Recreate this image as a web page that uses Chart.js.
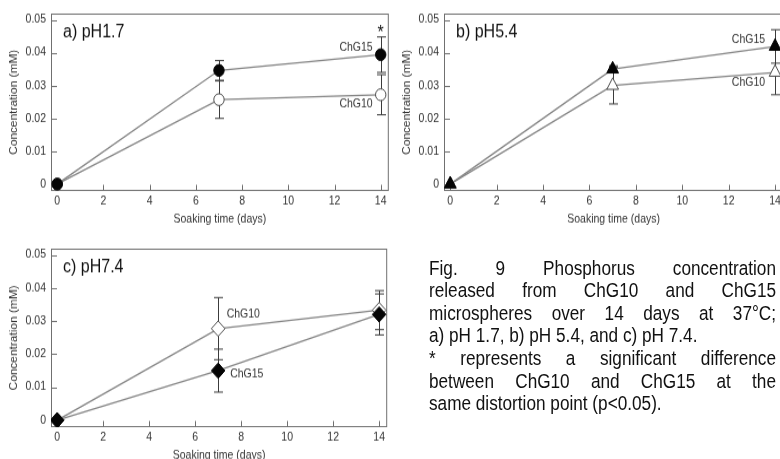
<!DOCTYPE html>
<html>
<head>
<meta charset="utf-8">
<title>Phosphorus release</title>
<script src="https://cdn.jsdelivr.net/npm/chart.js@4.4.1/dist/chart.umd.min.js"></script>
<style>
  html, body { margin: 0; padding: 0; background: #fff; }
  body {
    width: 780px; height: 459px; overflow: hidden; position: relative;
    font-family: 'Liberation Sans', Arial, Helvetica, sans-serif;
  }
  /* the whole figure is set a little taller than wide */
  #stage {
    position: absolute; left: 0; top: 0; width: 800px; height: 406px;
    transform: scaleY(1.13); transform-origin: 0 0;
  }
  canvas { position: absolute; }
  #chartA { left: 0; top: 0; }
  #chartB { left: 393px; top: 0; }
  #chartC { left: 0; top: 208px; }
  .caption {
    position: absolute; left: 429px; top: 226.5px; width: 347px;
    font-size: 17.2px; line-height: 20px; color: #111;
  }
  .caption .full { text-align: justify; text-align-last: justify; }
</style>
</head>
<body>
<div id="stage">
  <canvas id="chartA" width="395" height="204"></canvas>
  <canvas id="chartB" width="398" height="204"></canvas>
  <canvas id="chartC" width="395" height="205"></canvas>

  <div class="caption">
    <div class="full">Fig. 9 Phosphorus concentration</div>
    <div class="full">released from ChG10 and ChG15</div>
    <div class="full">microspheres over 14 days at 37°C;</div>
    <div>a) pH 1.7, b) pH 5.4, and c) pH 7.4.</div>
    <div class="full">* represents a significant difference</div>
    <div class="full">between ChG10 and ChG15 at the</div>
    <div>same distortion point (p&lt;0.05).</div>
  </div>
</div>

<script>
// soaking days and axis ticks
const days = [0, 7, 14];
const xTicks = [0, 2, 4, 6, 8, 10, 12, 14];
const yTicks = [0, 0.01, 0.02, 0.03, 0.04, 0.05];
const yTickLabels = ['0', '0.01', '0.02', '0.03', '0.04', '0.05'];

// a) pH 1.7  (mean, +/- error)
const chg10Ph17 = [0, 0.0257, 0.0272];
const chg10Ph17Err = [0, 0.0057, 0.0061];
const chg15Ph17 = [0, 0.0346, 0.0394];
const chg15Ph17Err = [0, 0.0030, 0.0054];

// b) pH 5.4
const chg10Ph54 = [0, 0.0300, 0.0340];
const chg10Ph54Err = [0, 0.0056, 0.0068];
const chg15Ph54 = [0, 0.0350, 0.0419];
const chg15Ph54Err = [0, 0.0010, 0.0051];

// c) pH 7.4
const chg10Ph74 = [0, 0.0277, 0.0333];
const chg10Ph74Err = [0, 0.0094, 0.0059];
const chg15Ph74 = [0, 0.0150, 0.0320];
const chg15Ph74Err = [0, 0.0065, 0.0062];

const FONT = "'Liberation Sans', Arial, Helvetica, sans-serif";

const toPoints = vals => days.map((d, i) => ({ x: d, y: vals[i] }));

// keep the css size fixed so Chart.js does not touch it
['chartA', 'chartB', 'chartC'].forEach(id => {
    const c = document.getElementById(id);
    c.style.width = c.width + 'px';
    c.style.height = c.height + 'px';
});

// frame, inward ticks, error bars and in-plot text
const panelDecor = {
    id: 'panelDecor',
    beforeDatasetsDraw(chart, args, opts) {
        const { ctx, chartArea: a, scales: { x, y } } = chart;
        ctx.save();
        ctx.strokeStyle = '#707070';
        ctx.lineWidth = 1;
        ctx.strokeRect(a.left + 0.5, a.top + 0.5, a.right - a.left - 1, a.bottom - a.top - 1);

        ctx.beginPath();
        xTicks.forEach(v => {
            const px = Math.round(x.getPixelForValue(v)) + 0.5;
            ctx.moveTo(px, a.bottom);
            ctx.lineTo(px, a.bottom - 5.5);
        });
        yTicks.forEach(v => {
            const py = Math.round(y.getPixelForValue(v)) + 0.5;
            ctx.moveTo(a.left, py);
            ctx.lineTo(a.left + 6, py);
        });
        ctx.stroke();

        // error bars (drawn under the markers)
        ctx.strokeStyle = '#3c3c3c';
        opts.errors.forEach(set => {
            set.means.forEach((m, i) => {
                const e = set.err[i];
                if (!e) return;
                const px = Math.round(x.getPixelForValue(days[i])) + 0.5;
                const top = y.getPixelForValue(m + e);
                const bot = y.getPixelForValue(m - e);
                ctx.beginPath();
                ctx.moveTo(px, top); ctx.lineTo(px, bot);
                ctx.moveTo(px - 4.5, top); ctx.lineTo(px + 4.5, top);
                ctx.moveTo(px - 4.5, bot); ctx.lineTo(px + 4.5, bot);
                ctx.stroke();
            });
        });
        ctx.restore();
    },
    afterDatasetsDraw(chart, args, opts) {
        const { ctx, chartArea: a, scales: { x, y } } = chart;
        ctx.save();
        ctx.fillStyle = '#111';
        ctx.textBaseline = 'middle';
        ctx.textAlign = 'left';
        ctx.font = '16px ' + FONT;
        ctx.fillText(opts.title, a.left + 12, a.top + 17);

        opts.labels.forEach(l => {
            ctx.font = (l.size || 10.5) + 'px ' + FONT;
            ctx.fillStyle = l.color || '#333';
            ctx.textAlign = l.align;
            ctx.fillText(l.text, x.getPixelForValue(l.x) + l.dx, y.getPixelForValue(l.y) + l.dy);
        });
        ctx.restore();
    }
};

function makePanel(id, cfg) {
    const el = document.getElementById(id);
    const ctx = el.getContext('2d');
    return new Chart(ctx, {
        type: 'line',
        data: {
            datasets: [
                {
                    label: 'ChG15',
                    data: toPoints(cfg.chg15),
                    borderColor: '#858585',
                    borderWidth: 1.3,
                    pointStyle: cfg.marker,
                    pointRadius: cfg.radius,
                    pointBackgroundColor: '#050505',
                    pointBorderColor: '#050505',
                    pointBorderWidth: 1,
                    tension: 0
                },
                {
                    label: 'ChG10',
                    data: toPoints(cfg.chg10),
                    borderColor: '#858585',
                    borderWidth: 1.3,
                    pointStyle: cfg.marker,
                    pointRadius: cfg.radius,
                    pointBackgroundColor: '#ffffff',
                    pointBorderColor: '#4a4a4a',
                    pointBorderWidth: 1,
                    tension: 0
                }
            ]
        },
        options: {
            responsive: false,
            animation: false,
            events: [],
            layout: { padding: { top: 12, right: 3, left: 0, bottom: 0 } },
            scales: {
                x: {
                    type: 'linear',
                    min: -0.27,
                    max: 14.35,
                    afterBuildTicks: axis => { axis.ticks = xTicks.map(v => ({ value: v })); },
                    afterFit: axis => { axis.height = 35; },
                    grid: { display: false, drawTicks: false },
                    border: { display: false },
                    ticks: {
                        padding: 3,
                        color: '#333',
                        font: { family: FONT, size: 10.5 },
                        maxRotation: 0,
                        autoSkip: false
                    },
                    title: {
                        display: true,
                        text: 'Soaking time (days)',
                        color: '#333',
                        font: { family: FONT, size: 10.5 },
                        padding: { top: 0, bottom: 4 }
                    }
                },
                y: {
                    type: 'linear',
                    min: -0.0021,
                    max: 0.0519,
                    afterBuildTicks: axis => { axis.ticks = yTicks.map(v => ({ value: v })); },
                    afterFit: axis => { axis.width = 51; },
                    grid: { display: false, drawTicks: false },
                    border: { display: false },
                    ticks: {
                        padding: 5,
                        color: '#333',
                        font: { family: FONT, size: 10.5 },
                        callback: (value, index) => yTickLabels[index]
                    },
                    title: {
                        display: true,
                        text: 'Concentration (mM)',
                        color: '#333',
                        font: { family: FONT, size: 10.5 },
                        padding: { top: 7.5, bottom: 0 }
                    }
                }
            },
            plugins: {
                legend: { display: false },
                tooltip: { enabled: false },
                panelDecor: {
                    title: cfg.title,
                    errors: [
                        { means: cfg.chg10, err: cfg.chg10Err },
                        { means: cfg.chg15, err: cfg.chg15Err }
                    ],
                    labels: cfg.labels
                }
            }
        },
        plugins: [panelDecor]
    });
}

makePanel('chartA', {
    title: 'a) pH1.7',
    marker: 'circle',
    radius: 5.2,
    chg10: chg10Ph17, chg10Err: chg10Ph17Err,
    chg15: chg15Ph17, chg15Err: chg15Ph17Err,
    labels: [
        { text: 'ChG15', x: 14, y: chg15Ph17[2], dx: -8, dy: -6.2, align: 'right' },
        { text: 'ChG10', x: 14, y: chg10Ph17[2], dx: -8, dy: 8.4, align: 'right' },
        { text: '*', x: 14, y: chg15Ph17[2] + chg15Ph17Err[2], dx: 0, dy: -2.7, align: 'center', size: 16, color: '#111' }
    ]
});

makePanel('chartB', {
    title: 'b) pH5.4',
    marker: 'triangle',
    radius: 6.8,
    chg10: chg10Ph54, chg10Err: chg10Ph54Err,
    chg15: chg15Ph54, chg15Err: chg15Ph54Err,
    labels: [
        { text: 'ChG15', x: 14, y: chg15Ph54[2], dx: -10, dy: -6.2, align: 'right' },
        { text: 'ChG10', x: 14, y: chg10Ph54[2], dx: -10, dy: 9.3, align: 'right' }
    ]
});

makePanel('chartC', {
    title: 'c) pH7.4',
    marker: 'rectRot',
    radius: 6.8,
    chg10: chg10Ph74, chg10Err: chg10Ph74Err,
    chg15: chg15Ph74, chg15Err: chg15Ph74Err,
    labels: [
        { text: 'ChG10', x: 7, y: chg10Ph74[1], dx: 8.5, dy: -12.4, align: 'left' },
        { text: 'ChG15', x: 7, y: chg15Ph74[1], dx: 12, dy: 3.5, align: 'left' }
    ]
});
</script>
</body>
</html>
